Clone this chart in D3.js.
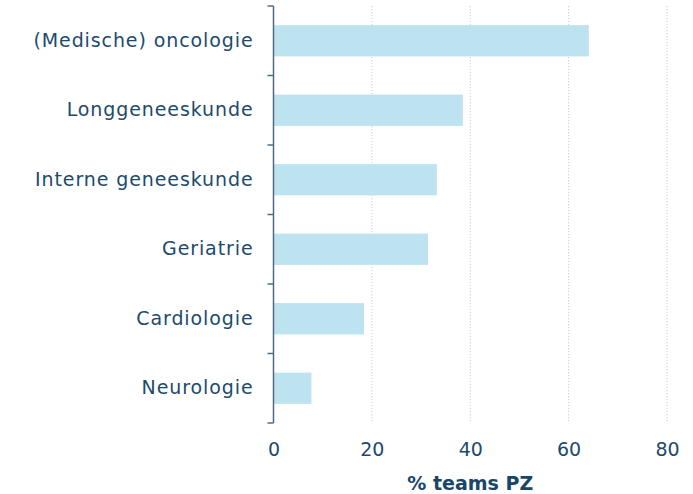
<!DOCTYPE html>
<html><head><meta charset="utf-8">
<script src="https://cdn.jsdelivr.net/npm/d3@7"></script>
<style>
html,body{margin:0;padding:0;background:#fff;}
text{font-family:"DejaVu Sans",sans-serif;}
</style></head>
<body><svg id="c" width="693" height="494"></svg>
<script>
const categories = ["(Medische) oncologie","Longgeneeskunde","Interne geneeskunde","Geriatrie","Cardiologie","Neurologie"];
const values = [64.1, 38.5, 33.2, 31.4, 18.4, 7.7];
const xTicks = [0,20,40,60,80];
const xTitle = "% teams PZ";

const svg = d3.select("#c");
const m = {left:273.5, right:26, top:6, bottom:71};
const W = 693, H = 494;
const x = d3.scaleLinear().domain([0,80]).range([m.left, W - m.right]);
const y = d3.scaleBand().domain(categories).range([m.top, H - m.bottom]).paddingInner(0.55).paddingOuter(0.275);
const textCol = "#1d4a6c";

// gridlines
svg.append("g").selectAll("line").data(xTicks.slice(1)).join("line")
  .attr("x1", d=>x(d)).attr("x2", d=>x(d))
  .attr("y1", m.top).attr("y2", H - m.bottom)
  .attr("stroke", "#cdd3da").attr("stroke-width", 1.1).attr("stroke-dasharray", "1.2,1.8");

// bars
svg.append("g").selectAll("rect").data(categories).join("rect")
  .attr("x", x(0)).attr("y", d=>y(d))
  .attr("width", (d,i)=>x(values[i]) - x(0)).attr("height", y.bandwidth())
  .attr("fill", "#bde2f0");

// y axis
const yAxisScale = d3.scaleBand().domain(categories).range([m.top, H - m.bottom]);
const gy = svg.append("g").attr("transform", `translate(${m.left},0)`)
  .call(d3.axisLeft(y).tickSize(0).tickPadding(20));
gy.select(".domain").remove();
gy.selectAll("text").attr("fill", textCol).style("font-size","19px").style("font-family","DejaVu Sans").style("letter-spacing","0.9px");
// axis line + boundary ticks
svg.append("line").attr("x1", m.left).attr("x2", m.left).attr("y1", m.top).attr("y2", H - m.bottom)
  .attr("stroke", "#4e6c86").attr("stroke-width", 1.5);
const bounds = categories.map(c=>yAxisScale(c)).concat([H - m.bottom]);
svg.append("g").selectAll("line").data(bounds).join("line")
  .attr("x1", m.left - 6).attr("x2", m.left).attr("y1", d=>d).attr("y2", d=>d)
  .attr("stroke", "#4e6c86").attr("stroke-width", 1.5);

// x axis
const gx = svg.append("g").attr("transform", `translate(0,${H - m.bottom})`)
  .call(d3.axisBottom(x).tickValues(xTicks).tickSize(0).tickPadding(20));
gx.select(".domain").remove();
gx.selectAll("text").attr("fill", textCol).style("font-size","19px").style("font-family","DejaVu Sans");

svg.append("text").attr("x", (x(0)+x(80))/2).attr("y", 490)
  .attr("text-anchor","middle").attr("fill", "#1a4566")
  .style("font-size","19px").style("font-weight","bold").text(xTitle);
</script></body></html>
